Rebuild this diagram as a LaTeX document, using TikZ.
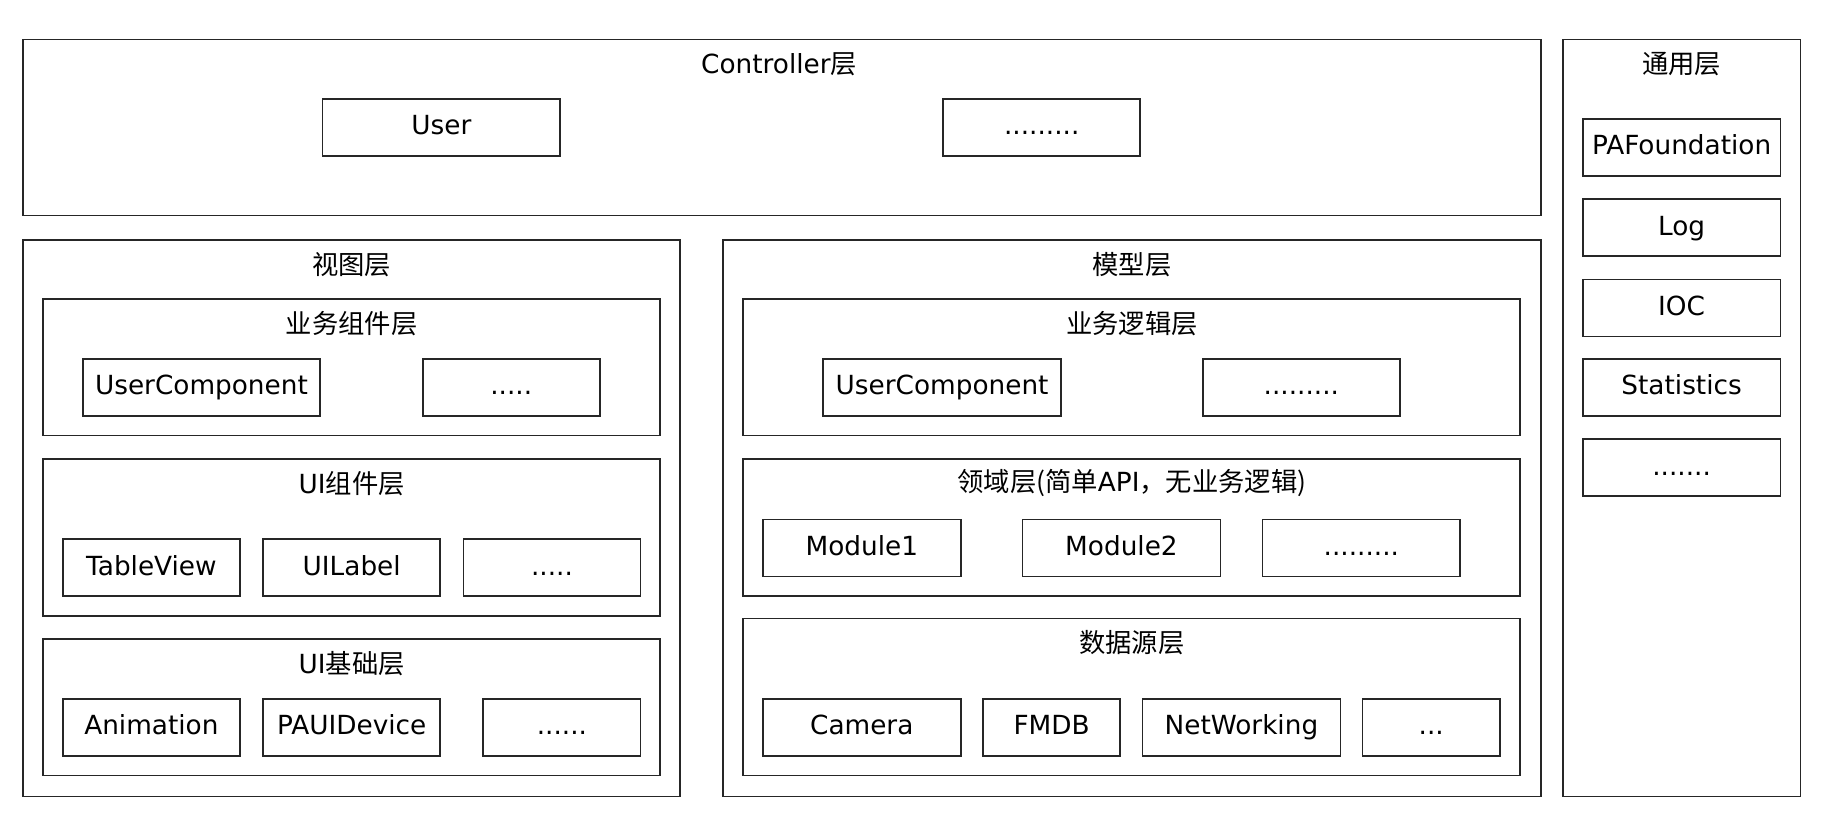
\documentclass[tikz,border=0pt]{standalone}
\usepackage{fontspec}
\setmainfont{DejaVu Sans}
\newfontfamily\cjk{Noto Sans CJK SC}
\begin{document}
\begin{tikzpicture}[x=0.5pt,y=0.5pt,
  blk/.style={draw=black!85, line width=0.75pt, inner sep=0pt, text height=8pt, text depth=1.6pt, font=\fontsize{11.3}{13}\selectfont},
  ttl/.style={inner sep=0pt, font=\fontsize{11.3}{13}\selectfont}]
\newcommand\bx[6]{\node[blk, minimum width={(#4-#2)*0.5pt}, minimum height={(#5-#3)*0.5pt}] (#1) at ({(#2+#4)/2},{-(#3+#5)/2}) {#6};}
\useasboundingbox (0,0) rectangle (1568,-711);
% containers
\bx{ctrl}{20}{34}{1323}{185}{}
\node[ttl] (ctrlT) at (669,-55) {Controller{\cjk 层}};
\bx{gen}{1342}{34}{1546}{684}{}
\node[ttl] (genT) at (1444,-55) {\cjk 通用层};
\bx{view}{20}{206}{584}{684}{}
\node[ttl] (viewT) at (302,-227) {\cjk 视图层};
\bx{model}{621}{206}{1323}{684}{}
\node[ttl] (modelT) at (972,-227) {\cjk 模型层};
% view sublayers
\bx{biz}{37}{257}{567}{374}{}
\node[ttl] (bizT) at (302,-278) {\cjk 业务组件层};
\bx{uic}{37}{394}{567}{529}{}
\node[ttl] (uicT) at (302,-415) {UI{\cjk 组件层}};
\bx{uib}{37}{549}{567}{666}{}
\node[ttl] (uibT) at (302,-570) {UI{\cjk 基础层}};
% model sublayers
\bx{logic}{638}{257}{1305}{374}{}
\node[ttl] (logicT) at (972,-278) {\cjk 业务逻辑层};
\bx{domain}{638}{394}{1305}{512}{}
\node[ttl] (domainT) at (972,-415) {{\cjk 领域层(简单}API{\cjk ，无业务逻辑)}};
\bx{data}{638}{531}{1305}{666}{}
\node[ttl] (dataT) at (972,-552) {\cjk 数据源层};
% controller items
\bx{user}{277}{85}{481}{134}{User}
\bx{cdots}{810}{85}{979}{134}{.........}
% general items
\bx{paf}{1359}{102}{1529}{151}{PAFoundation}
\bx{log}{1359}{171}{1529}{220}{Log}
\bx{ioc}{1359}{240}{1529}{289}{IOC}
\bx{stat}{1359}{308}{1529}{357}{Statistics}
\bx{gdots}{1359}{377}{1529}{426}{.......}
% view items
\bx{ucomp}{71}{308}{275}{357}{UserComponent}
\bx{bdots}{363}{308}{515}{357}{.....}
\bx{table}{54}{463}{206}{512}{TableView}
\bx{label}{226}{463}{378}{512}{UILabel}
\bx{udots}{398}{463}{550}{512}{.....}
\bx{anim}{54}{600}{206}{649}{Animation}
\bx{device}{226}{600}{378}{649}{PAUIDevice}
\bx{fdots}{415}{600}{550}{649}{......}
% model items
\bx{mucomp}{707}{308}{911}{357}{UserComponent}
\bx{ldots}{1033}{308}{1202}{357}{.........}
\bx{mod1}{655}{446}{825}{495}{Module1}
\bx{mod2}{878}{446}{1048}{495}{Module2}
\bx{mdots}{1084}{446}{1254}{495}{.........}
\bx{camera}{655}{600}{825}{649}{Camera}
\bx{fmdb}{844}{600}{962}{649}{FMDB}
\bx{net}{981}{600}{1151}{649}{NetWorking}
\bx{ddots}{1170}{600}{1288}{649}{...}
\end{tikzpicture}
\end{document}
